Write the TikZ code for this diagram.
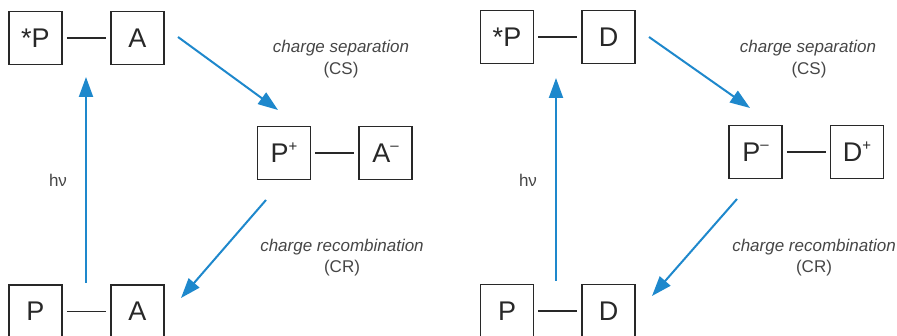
\documentclass[tikz,border=0pt]{standalone}
\usepackage{fontspec}
\setmainfont{Liberation Sans}
\usepackage{tikz}
\usetikzlibrary{arrows.meta,positioning}
\usepackage{xcolor}
\definecolor{cyclblue}{RGB}{30,136,204}
\definecolor{boxgray}{RGB}{40,40,40}
\definecolor{txtgray}{RGB}{70,70,70}
\newcommand{\chg}[1]{\raisebox{0.42em}{\fontsize{15}{15}\selectfont #1}}

\begin{document}
\begin{tikzpicture}[x=1pt, y=-1pt,
  mol/.style={rectangle, draw=boxgray, line width=1.6pt, minimum size=53pt, inner sep=0pt,
    text=boxgray, font=\fontsize{27}{27}\selectfont},
  bond/.style={draw=boxgray, line width=1.5pt, shorten >=4pt, shorten <=4pt},
  transfer/.style={draw=cyclblue, line width=2pt, -{Triangle[length=20pt, width=14pt]}},
  proc/.style={text=txtgray, font=\fontsize{17}{18}\selectfont\itshape},
  abbr/.style={text=txtgray, font=\fontsize{17}{18}\selectfont},
  every node/.style={inner sep=0pt}]
  \clip (0,0) rectangle (897,336);

  % left cycle: acceptor
  \node[mol] (ps1) at (35.5,38) {*P};
  \node[mol] (a1) at (137.5,38) {A};
  \node[mol] (pp1) at (284,153) {P\chg{+}};
  \node[mol] (am1) at (385.5,153) {A\chg{–}};
  \node[mol] (p1) at (35.5,311.5) {P};
  \node[mol] (ab1) at (137.5,311.5) {A};

  \draw[bond] (ps1) -- (a1);
  \draw[bond] (pp1) -- (am1);
  \draw[bond] (p1) -- (ab1);

  \coordinate (hvs1) at (86,283);
  \coordinate (hve1) at (86,77);
  \coordinate (css1) at (178,37);
  \coordinate (cse1) at (278,110);
  \coordinate (crs1) at (266,200);
  \coordinate (cre1) at (181,298);

  \draw[transfer] (hvs1) -- (hve1);
  \draw[transfer] (css1) -- (cse1);
  \draw[transfer] (crs1) -- (cre1);

  \node[abbr] (hv1) at (58,180) {hν};
  \node[proc] (cs1) at (341,48) {charge separation};
  \node[abbr] (csb1) at (341,70) {(CS)};
  \node[proc] (cr1) at (342,247) {charge recombination};
  \node[abbr] (crb1) at (342,268) {(CR)};

  % right cycle: donor
  \node[mol] (ps2) at (507,37) {*P};
  \node[mol] (d2) at (608.5,37) {D};
  \node[mol] (pm2) at (755.5,152) {P\chg{–}};
  \node[mol] (dp2) at (857,152) {D\chg{+}};
  \node[mol] (p2) at (507,311) {P};
  \node[mol] (db2) at (608.5,311) {D};

  \draw[bond] (ps2) -- (d2);
  \draw[bond] (pm2) -- (dp2);
  \draw[bond] (p2) -- (db2);

  \coordinate (hvs2) at (556,281);
  \coordinate (hve2) at (556,78);
  \coordinate (css2) at (649,37);
  \coordinate (cse2) at (750,108);
  \coordinate (crs2) at (737,199);
  \coordinate (cre2) at (652,296);

  \draw[transfer] (hvs2) -- (hve2);
  \draw[transfer] (css2) -- (cse2);
  \draw[transfer] (crs2) -- (cre2);

  \node[abbr] (hv2) at (528,180) {hν};
  \node[proc] (cs2) at (808,48) {charge separation};
  \node[abbr] (csb2) at (809,70) {(CS)};
  \node[proc] (cr2) at (814,247) {charge recombination};
  \node[abbr] (crb2) at (814,268) {(CR)};
\end{tikzpicture}
\end{document}
